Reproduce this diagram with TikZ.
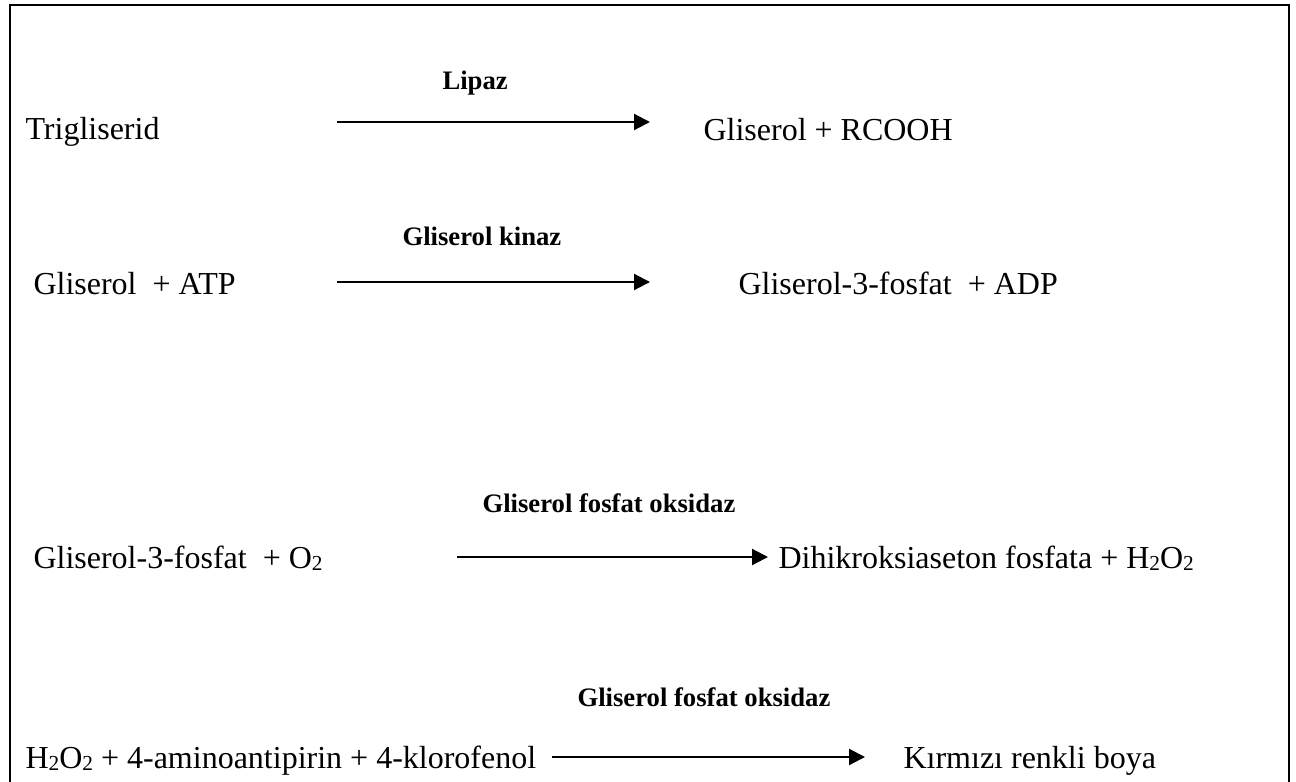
\documentclass[tikz,border=0pt]{standalone}
\usepackage{fontspec}
\setmainfont{Liberation Serif}
\usetikzlibrary{arrows.meta}
\newcommand{\sbtwo}{\raisebox{-0.8pt}{\fontsize{8}{8}\selectfont 2}}
\begin{document}
\begin{tikzpicture}[x=0.375pt, y=-0.375pt,
  chem/.style={inner sep=0pt, anchor=base west, font=\fontsize{12}{14}\selectfont},
  enz/.style={inner sep=0pt, anchor=base west, font=\fontsize{10}{12}\selectfont\bfseries},
  rxn/.style={line width=0.8pt, -{Triangle[length=6pt, width=6pt]}},
  frame/.style={line width=1.1pt}]
\useasboundingbox (0,0) rectangle (1296,781);
\clip (0,0) rectangle (1296,781);
\draw[frame] (10,5) -- (1289,5) -- (1289,800) -- (10,800) -- cycle;

% Reaction 1: lipase
\node[chem] (r1l) at (25,139) {Trigliserid};
\node[enz] (e1) at (442,90) {Lipaz};
\node[chem] (r1r) at (703,140) {Gliserol + RCOOH};
\coordinate (a1s) at (337,122);
\coordinate (a1e) at (650,122);
\draw[rxn] (a1s) -- (a1e);

% Reaction 2: glycerol kinase
\node[chem] (r2l) at (33,294) {Gliserol~ + ATP};
\node[enz] (e2) at (402,245) {Gliserol kinaz};
\node[chem] (r2r) at (738,294) {Gliserol-3-fosfat~ + ADP};
\coordinate (a2s) at (337,282);
\coordinate (a2e) at (650,282);
\draw[rxn] (a2s) -- (a2e);

% Reaction 3: glycerol phosphate oxidase
\node[chem] (r3l) at (33,568) {Gliserol-3-fosfat~ + O\sbtwo};
\node[enz] (e3) at (482,512) {Gliserol fosfat oksidaz};
\node[chem] (r3r) at (778,568) {Dihikroksiaseton fosfata + H\sbtwo O\sbtwo};
\coordinate (a3s) at (457,557);
\coordinate (a3e) at (768,557);
\draw[rxn] (a3s) -- (a3e);

% Reaction 4: colour formation
\node[chem] (r4l) at (25,768) {H\sbtwo O\sbtwo{} + 4-aminoantipirin + 4-klorofenol};
\node[enz] (e4) at (577,706) {Gliserol fosfat oksidaz};
\node[chem] (r4r) at (903,768) {Kırmızı renkli boya};
\coordinate (a4s) at (552,757);
\coordinate (a4e) at (865,757);
\draw[rxn] (a4s) -- (a4e);
\end{tikzpicture}
\end{document}
